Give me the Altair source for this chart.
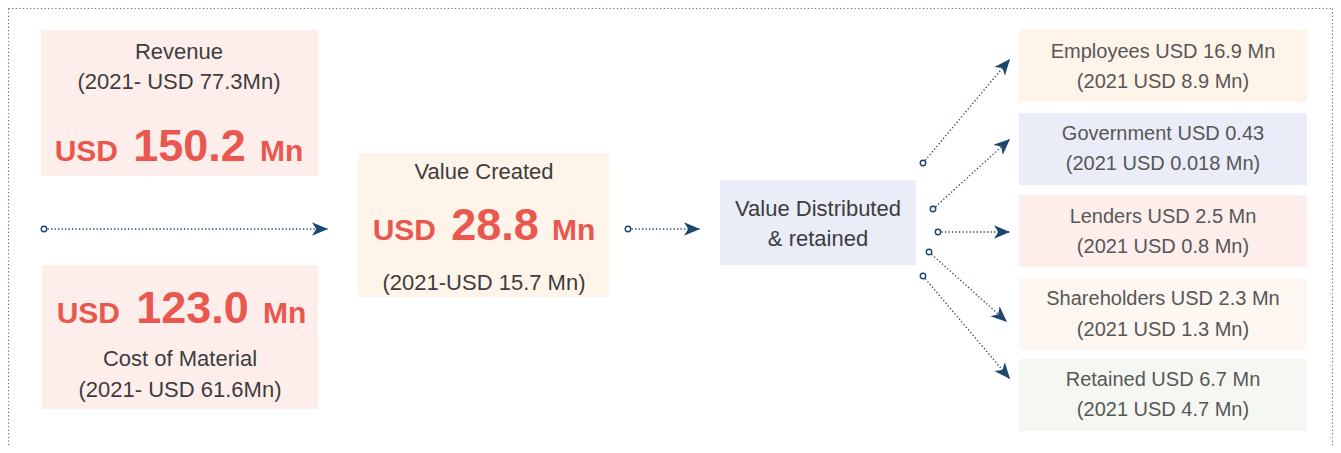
import math
import altair as alt
import pandas as pd

# ---------------- data (page pixel coordinates of the diagram) ----------------
box_names = ["Revenue", "Cost", "Created", "Distributed", "Employees",
             "Government", "Lenders", "Shareholders", "Retained"]
box_x1 = [41, 42, 358, 720, 1019, 1019, 1019, 1019, 1019]
box_x2 = [318, 318, 609, 916, 1307, 1307, 1307, 1307, 1307]
box_y1 = [30, 265, 153, 180, 30, 113, 195, 278, 359]
box_y2 = [176, 409, 297, 265, 102, 185, 267, 350, 431]
box_fill = ["#fdeeeb", "#fdeeeb", "#fef4ea", "#eaecf7", "#fef4ea",
            "#eaecf7", "#fdeeeb", "#fdf6f1", "#f5f7f3"]

# plain labels
lab_text = ["Revenue", "(2021- USD 77.3Mn)",
            "Cost of Material", "(2021- USD 61.6Mn)",
            "Value Created", "(2021-USD 15.7 Mn)",
            "Value Distributed", "& retained",
            "Employees USD 16.9 Mn", "(2021 USD 8.9 Mn)",
            "Government USD 0.43", "(2021 USD 0.018 Mn)",
            "Lenders USD 2.5 Mn", "(2021 USD 0.8 Mn)",
            "Shareholders USD 2.3 Mn", "(2021 USD 1.3 Mn)",
            "Retained USD 6.7 Mn", "(2021 USD 4.7 Mn)"]
lab_x = [179, 179, 180, 180, 484, 484, 818, 818] + [1163] * 10
lab_y = [52, 82, 359, 390, 172, 283, 209, 239,
         52, 82, 134, 164, 217, 247, 299, 330, 380, 410]
lab_size = [22] * 8 + [20] * 10
lab_color = ["#3d3d3d"] * 8 + ["#575757"] * 10

# big red values
big_value = ["150.2", "123.0", "28.8"]
big_cx = [189.5, 192.5, 495]
big_unit_l = [118, 120, 436]     # right edge of "USD"
big_unit_r = [260, 263, 552]     # left edge of "Mn"
big_base = [161, 323, 240]

# arrows: start point -> tip
arr_x1 = [44, 628, 923, 933, 938, 929, 923]
arr_y1 = [229, 229, 163, 209, 232, 252, 276]
arr_x2 = [328, 700, 1010, 1010, 1010, 1007, 1010]
arr_y2 = [229, 229, 59, 139, 232, 322, 379]

# frame (dotted border)
frame_x1 = [8.5, 8.5, 1332.5]
frame_y1 = [8.5, 8.5, 8.5]
frame_x2 = [1332.5, 8.5, 1332.5]
frame_y2 = [8.5, 445, 445]

# ---------------- build tables ----------------
boxes = pd.DataFrame(dict(name=box_names, x1=box_x1, x2=box_x2,
                          y1=box_y1, y2=box_y2, fill=box_fill))
labels = pd.DataFrame(dict(t=lab_text, x=lab_x, y=lab_y,
                           s=lab_size, c=lab_color))
big = pd.DataFrame(dict(v=big_value, cx=big_cx, ul=big_unit_l,
                        ur=big_unit_r, b=big_base))
big["usd"] = "USD"
big["mn"] = "Mn"
arrows = pd.DataFrame(dict(x1=arr_x1, y1=arr_y1, x2=arr_x2, y2=arr_y2))
arrows["ang"] = [
    math.degrees(math.atan2(b2 - b1, a2 - a1)) % 360
    for a1, b1, a2, b2 in zip(arr_x1, arr_y1, arr_x2, arr_y2)
]
frame = pd.DataFrame(dict(x1=frame_x1, y1=frame_y1, x2=frame_x2, y2=frame_y2))

W, H = 1325, 437
XS = alt.Scale(domain=[8, 8 + W], nice=False, zero=False)
YS = alt.Scale(domain=[8, 8 + H], nice=False, zero=False, reverse=True)

FONT = "Liberation Sans"
RED = "#e9574e"
NAVY = "#1d4670"


def X(f):
    return alt.X(f, type="quantitative", scale=XS, axis=None)


def Y(f):
    return alt.Y(f, type="quantitative", scale=YS, axis=None)


frame_layer = alt.Chart(frame).mark_rule(
    color="#4f7399", strokeWidth=1.2, strokeDash=[1.2, 2.4]
).encode(x=X("x1"), y=Y("y1"), x2="x2", y2="y2")

box_layer = alt.Chart(boxes).mark_rect().encode(
    x=X("x1"), x2="x2", y=Y("y1"), y2="y2",
    fill=alt.Fill("fill:N", scale=None),
)

line_layer = alt.Chart(arrows).mark_rule(
    color=NAVY, strokeWidth=1.3, strokeDash=[1.3, 2.2]
).encode(x=X("x1"), y=Y("y1"), x2="x2", y2="y2")

head_layer = alt.Chart(arrows).mark_point(
    shape="M0,0 L-2,-0.85 L-1.45,0 L-2,0.85 Z",
    filled=True, color=NAVY, opacity=1, size=260,
).encode(x=X("x2"), y=Y("y2"), angle=alt.Angle("ang:Q", scale=None))

start_layer = alt.Chart(arrows).mark_point(
    shape="circle", filled=True, fill="white", stroke=NAVY,
    strokeWidth=1.4, size=30, opacity=1,
).encode(x=X("x1"), y=Y("y1"))

label_layer = alt.Chart(labels).mark_text(
    font=FONT, baseline="middle", align="center"
).encode(
    x=X("x"), y=Y("y"), text="t:N",
    size=alt.Size("s:Q", scale=None),
    color=alt.Color("c:N", scale=None),
)

num_layer = alt.Chart(big).mark_text(
    font=FONT, fontWeight="bold", fontSize=45, color=RED,
    align="center", baseline="alphabetic",
).encode(x=X("cx"), y=Y("b"), text="v:N")

usd_layer = alt.Chart(big).mark_text(
    font=FONT, fontWeight="bold", fontSize=30, color=RED,
    align="right", baseline="alphabetic",
).encode(x=X("ul"), y=Y("b"), text="usd:N")

mn_layer = alt.Chart(big).mark_text(
    font=FONT, fontWeight="bold", fontSize=30, color=RED,
    align="left", baseline="alphabetic",
).encode(x=X("ur"), y=Y("b"), text="mn:N")

chart = alt.layer(
    frame_layer, box_layer, line_layer, head_layer, start_layer,
    label_layer, num_layer, usd_layer, mn_layer,
).properties(
    width=W, height=H, padding=0, autosize=alt.AutoSizeParams(type="none"),
    background="white",
).configure_view(stroke=None)

chart.save("out.html", embed_options={"renderer": "svg", "actions": False})
